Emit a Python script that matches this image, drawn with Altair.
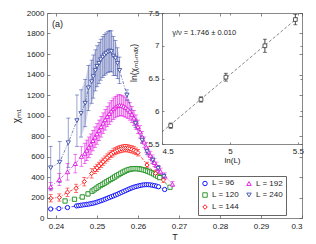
import altair as alt
import pandas as pd

FONT = "Liberation Sans"

# ---------------- main panel data ----------------
T96 = [0.2387, 0.2407, 0.2428, 0.2450, 0.2455, 0.2460, 0.2465, 0.2470, 0.2475, 0.2480,
       0.2485, 0.2490, 0.2495, 0.2500, 0.2505, 0.2510, 0.2515, 0.2520, 0.2525, 0.2530,
       0.2535, 0.2540, 0.2545, 0.2550, 0.2555, 0.2560, 0.2565, 0.2570, 0.2575, 0.2580,
       0.2585, 0.2590, 0.2595, 0.2600, 0.2605, 0.2610, 0.2615, 0.2620, 0.2625, 0.2630,
       0.2635, 0.2640, 0.2645, 0.2650, 0.2665]
C96 = [88, 92, 102, 118, 121, 124, 127, 130, 133, 136,
       140, 144, 149, 155, 162, 169, 176, 184, 192, 200,
       208, 216, 224, 232, 241, 250, 259, 268, 277, 286,
       294, 301, 307, 312, 317, 321, 324, 325, 325, 323,
       320, 316, 311, 305, 278]
E96 = [7, 7, 7, 6, 6, 6, 6, 6, 6, 6,
       6, 6, 6, 6, 6, 6, 6, 6, 6, 6,
       6, 6, 6, 6, 6, 6, 6, 6, 6, 6,
       6, 6, 6, 6, 6, 6, 6, 6, 6, 6,
       6, 6, 6, 6, 7]

T120 = [0.2422, 0.2445, 0.2464, 0.2478, 0.2488, 0.2493, 0.2498, 0.2503, 0.2508, 0.2513,
        0.2518, 0.2523, 0.2528, 0.2533, 0.2538, 0.2543, 0.2548, 0.2553, 0.2558, 0.2563,
        0.2568, 0.2573, 0.2578, 0.2583, 0.2588, 0.2593, 0.2598, 0.2603, 0.2608, 0.2613,
        0.2618, 0.2623, 0.2628, 0.2633, 0.2638, 0.2643, 0.2648, 0.2653, 0.2678]
C120 = [166, 183, 205, 235, 262, 275, 290, 303, 316, 328,
        340, 352, 364, 376, 388, 400, 412, 424, 436, 447,
        457, 466, 473, 478, 481, 482, 481, 479, 475, 470,
        464, 457, 449, 440, 430, 419, 407, 394, 300]
E120 = [18, 18, 20, 20, 20, 20, 20, 20, 20, 20,
        20, 20, 20, 20, 20, 20, 20, 20, 20, 20,
        20, 20, 20, 20, 20, 20, 20, 20, 20, 20,
        20, 20, 18, 18, 18, 16, 16, 16, 14]

T144 = [0.2387, 0.2408, 0.2428, 0.2449, 0.2469, 0.2487, 0.2495, 0.2500, 0.2505, 0.2510,
        0.2515, 0.2520, 0.2525, 0.2530, 0.2535, 0.2540, 0.2545, 0.2550, 0.2555, 0.2560,
        0.2565, 0.2570, 0.2575, 0.2580, 0.2585, 0.2590, 0.2595, 0.2600, 0.2622, 0.2643,
        0.2662]
C144 = [192, 200, 252, 290, 355, 435, 470, 490, 510, 530,
        550, 570, 590, 608, 625, 640, 652, 662, 670, 676,
        680, 681, 679, 675, 669, 661, 650, 637, 517, 436,
        371]
E144 = [35, 35, 40, 40, 42, 45, 35, 35, 35, 35,
        35, 35, 35, 35, 35, 35, 35, 35, 35, 35,
        35, 35, 35, 35, 35, 35, 33, 32, 28, 25,
        22]

T192 = [0.2387, 0.2408, 0.2428, 0.2447, 0.2462, 0.2470, 0.2475, 0.2480, 0.2485, 0.2490,
        0.2495, 0.2500, 0.2505, 0.2510, 0.2515, 0.2520, 0.2525, 0.2530, 0.2535, 0.2540,
        0.2545, 0.2550, 0.2555, 0.2560, 0.2565, 0.2570, 0.2575, 0.2580, 0.2585, 0.2590,
        0.2595, 0.2600, 0.2605, 0.2610, 0.2615, 0.2620, 0.2625, 0.2630, 0.2635, 0.2640,
        0.2645, 0.2650, 0.2655, 0.2665, 0.2684]
C192 = [305, 375, 450, 530, 600, 630, 660, 690, 720, 755,
        788, 820, 855, 890, 925, 958, 990, 1018, 1043, 1065,
        1082, 1095, 1100, 1098, 1090, 1078, 1060, 1040, 1010, 975,
        935, 890, 840, 790, 740, 690, 650, 610, 575, 540,
        510, 480, 455, 410, 330]
E192 = [40, 60, 80, 90, 95, 100, 100, 100, 100, 100,
        100, 100, 100, 100, 100, 100, 100, 105, 105, 105,
        105, 105, 105, 100, 100, 95, 90, 85, 80, 75,
        70, 65, 60, 55, 50, 48, 45, 42, 40, 38,
        36, 34, 32, 30, 25]

T240 = [0.2387, 0.2409, 0.2430, 0.2451, 0.2461, 0.2471, 0.2479, 0.2487, 0.2491, 0.2496,
        0.2500, 0.2505, 0.2509, 0.2514, 0.2518, 0.2522, 0.2527, 0.2531, 0.2535, 0.2540,
        0.2545, 0.2550, 0.2555, 0.2573, 0.2594, 0.2610, 0.2622, 0.2636, 0.2649, 0.2663]
C240 = [490, 545, 735, 950, 1020, 1120, 1270, 1330, 1380, 1440,
        1480, 1510, 1545, 1570, 1590, 1605, 1620, 1630, 1625, 1580,
        1560, 1510, 1440, 1200, 925, 760, 648, 565, 485, 405]
E240 = [210, 200, 240, 250, 230, 230, 220, 210, 210, 200,
        200, 200, 200, 200, 200, 200, 200, 200, 200, 190,
        170, 150, 130, 50, 40, 35, 30, 30, 25, 25]

SERIES = [("96", T96, C96, E96), ("120", T120, C120, E120), ("144", T144, C144, E144),
          ("192", T192, C192, E192), ("240", T240, C240, E240)]
LEG_ORDER = ["96", "120", "144", "192", "240"]
DRAW_ORDER = ["240", "192", "144", "120", "96"]
COLORS = {"96": "#0000FF", "120": "#1E8E1E", "144": "#FF0000", "192": "#E010E0", "240": "#3B4DA6"}
SHAPES = {"96": "circle", "120": "square", "144": "diamond", "192": "triangle-up", "240": "triangle-down"}

XT = [0.24, 0.25, 0.26, 0.27, 0.28, 0.29, 0.30]
YT = [0, 200, 400, 600, 800, 1000, 1200, 1400, 1600, 1800, 2000]

# ---------------- inset data ----------------
LNL = [4.564, 4.787, 4.970, 5.257, 5.481]
LNCHI = [5.78, 6.18, 6.52, 7.00, 7.40]
LNERR = [0.04, 0.04, 0.06, 0.10, 0.08]
SLOPE, SLOPE_ERR = 1.746, 0.010
INTERCEPT = -2.172
FIT_X = [4.5, 5.5]
IXT = [4.5, 5.0, 5.5]
IYT = [5.5, 6.0, 6.5, 7.0, 7.5]

W, H = 255, 205

rows = []
for L, Ts, Cs, Es in SERIES:
    for t, c, e in zip(Ts, Cs, Es):
        rows.append({"L": L, "T": t, "chi": c, "lo": c - e, "hi": c + e})
df = pd.DataFrame(rows)

xs = alt.Scale(domain=[0.2378, 0.3], nice=False, zero=False)
ys = alt.Scale(domain=[0, 2000], nice=False, zero=False)
cscale = alt.Scale(domain=LEG_ORDER, range=[COLORS[k] for k in LEG_ORDER])
sscale = alt.Scale(domain=LEG_ORDER, range=[SHAPES[k] for k in LEG_ORDER])
# same colours, listed in another order (a different domain so these never join the legend)
fscale = alt.Scale(domain=DRAW_ORDER, range=[COLORS[k] for k in DRAW_ORDER])

AXC = dict(domainColor="#555555", domainWidth=0.7, tickColor="#555555", tickWidth=0.7, zindex=1, grid=False)

x_lab = alt.Axis(orient="bottom", values=XT, format=".2~f", ticks=False, labelPadding=4,
                 title="T", titlePadding=2, **AXC)
y_lab = alt.Axis(orient="left", values=YT, format="d", ticks=False, labelPadding=3,
                 title="χₘ₁", titleFontSize=10, titlePadding=5, **AXC)
x_in_b = alt.Axis(orient="top", offset=-H, values=XT, labels=False, domain=False, tickSize=3, title=None, **AXC)
y_in_l = alt.Axis(orient="right", offset=-W, values=YT, labels=False, domain=False, tickSize=3, title=None, **AXC)
x_in_t = alt.Axis(orient="bottom", offset=-H, values=XT, labels=False, tickSize=3, title=None, **AXC)
y_in_r = alt.Axis(orient="left", offset=-W, values=YT, labels=False, tickSize=3, title=None, **AXC)

fill_nl = alt.Fill("L:N", scale=fscale, legend=None)
stroke_nl = alt.Stroke("L:N", scale=fscale, legend=None)
legend = alt.Legend(orient="none", legendX=151, legendY=163, columns=2, title=None,
                    labelExpr="'L = ' + datum.label", fillColor="white", strokeColor="#666666",
                    padding=3, labelFontSize=8, labelFont=FONT, symbolSize=20, symbolStrokeWidth=0.9,
                    rowPadding=2, columnPadding=5, labelOffset=3)

base = alt.Chart(df)

band = base.transform_filter(
    "(datum.L == '240' && datum.T > 0.2455 && datum.T < 0.256) || (datum.L == '192' && datum.T > 0.2465 && datum.T < 0.2605)"
).mark_area(opacity=0.22).encode(
    x=alt.X("T:Q", scale=xs, axis=None), y=alt.Y("lo:Q", scale=ys, axis=None), y2="hi:Q",
    fill=fill_nl, detail="L:N")

rules = base.mark_rule(strokeWidth=0.6, opacity=0.85).encode(
    x=alt.X("T:Q", scale=xs, axis=x_lab), y=alt.Y("lo:Q", scale=ys, axis=y_lab), y2="hi:Q", stroke=stroke_nl)

caps = base.transform_fold(["lo", "hi"], as_=["k", "v"]).mark_tick(
    orient="horizontal", size=4, thickness=0.6, opacity=0.9).encode(
    x=alt.X("T:Q", scale=xs, axis=None), y=alt.Y("v:Q", scale=ys, axis=None), fill=fill_nl)

lines = base.mark_line(strokeWidth=0.7, strokeDash=[3, 1.5, 1, 1.5]).encode(
    x=alt.X("T:Q", scale=xs, axis=x_in_b), y=alt.Y("chi:Q", scale=ys, axis=y_in_l),
    stroke=stroke_nl, order="T:Q")

points = base.mark_point(filled=False, fill="white", fillOpacity=1, size=18, strokeWidth=0.9, opacity=1).encode(
    x=alt.X("T:Q", scale=xs, axis=x_in_t), y=alt.Y("chi:Q", scale=ys, axis=y_in_r),
    color=alt.Color("L:N", scale=cscale, legend=legend),
    shape=alt.Shape("L:N", scale=sscale, legend=legend))

label_a = alt.Chart(pd.DataFrame({"T": [0.2390], "chi": [1893], "t": ["(a)"]})).mark_text(
    align="left", baseline="middle", fontSize=9, font=FONT, color="#222222").encode(
    x=alt.X("T:Q", scale=xs, axis=None), y=alt.Y("chi:Q", scale=ys, axis=None), text="t:N")

main = alt.layer(band, rules, caps, lines, points, label_a).resolve_axis(x="independent", y="independent")

# ---------------- inset ----------------
ixs = alt.Scale(domain=[4.5, 5.53], range=[115, 255], nice=False, zero=False)
iys = alt.Scale(domain=[5.5, 7.5], range=[131, 0], nice=False, zero=False)

ix_lab = alt.Axis(orient="bottom", offset=-74, values=IXT, format=".1~f", ticks=False, labelPadding=3,
                  title="ln(L)", titleFontSize=8, titlePadding=1, **AXC)
iy_lab = alt.Axis(orient="left", offset=-115, values=IYT, format=".1~f", ticks=False, labelPadding=3,
                  title=None, **AXC)
ix_in_b = alt.Axis(orient="top", offset=-131, values=IXT, labels=False, domain=False, tickSize=2, title=None, **AXC)
iy_in_l = alt.Axis(orient="right", offset=-140, values=IYT, labels=False, domain=False, tickSize=2, title=None, **AXC)
ix_in_t = alt.Axis(orient="bottom", offset=-H, values=IXT, labels=False, domain=False, tickSize=2, title=None, **AXC)
iy_in_r = alt.Axis(orient="left", offset=-W, values=IYT, labels=False, domain=False, tickSize=2, title=None, **AXC)

bg = alt.Chart(pd.DataFrame({"x0": [4.5], "x1": [5.53], "y0": [5.5], "y1": [7.5]})).mark_rect(
    fill="white").encode(
    x=alt.X("x0:Q", scale=ixs, axis=ix_lab), x2="x1:Q",
    y=alt.Y("y0:Q", scale=iys, axis=iy_lab), y2="y1:Q")

fit_df = pd.DataFrame({"x": FIT_X, "y": [SLOPE * v + INTERCEPT for v in FIT_X]})
fit = alt.Chart(fit_df).mark_line(color="#555555", strokeWidth=0.7, strokeDash=[3, 2]).encode(
    x=alt.X("x:Q", scale=ixs, axis=ix_in_b), y=alt.Y("y:Q", scale=iys, axis=iy_in_l))

idf = pd.DataFrame({"x": LNL, "y": LNCHI, "lo": [a - b for a, b in zip(LNCHI, LNERR)],
                    "hi": [a + b for a, b in zip(LNCHI, LNERR)]})
ibase = alt.Chart(idf)
irules = ibase.mark_rule(color="#111111", strokeWidth=0.8).encode(
    x=alt.X("x:Q", scale=ixs, axis=ix_in_t), y=alt.Y("lo:Q", scale=iys, axis=iy_in_r), y2="hi:Q")
icaps = ibase.transform_fold(["lo", "hi"], as_=["k", "v"]).mark_tick(
    orient="horizontal", size=4, thickness=0.8, color="#111111").encode(
    x=alt.X("x:Q", scale=ixs, axis=None), y=alt.Y("v:Q", scale=iys, axis=None))
ipts = ibase.mark_point(shape="square", filled=False, fill="white", fillOpacity=1, size=14,
                        strokeWidth=0.8, color="#333333").encode(
    x=alt.X("x:Q", scale=ixs, axis=None), y=alt.Y("y:Q", scale=iys, axis=None))
itext = alt.Chart(pd.DataFrame({"x": [4.575], "y": [7.2],
                                "t": [f"γ/ν = {SLOPE:.3f} ± {SLOPE_ERR:.3f}"]})).mark_text(
    align="left", baseline="middle", fontSize=7.5, font=FONT, color="#222222").encode(
    x=alt.X("x:Q", scale=ixs, axis=None), y=alt.Y("y:Q", scale=iys, axis=None), text="t:N")
# inset y-axis title, placed left of the inset's tick labels
ititle = alt.Chart(pd.DataFrame({"t": ["ln(χₘ₁,ₘₐₓ)"]})).mark_text(
    align="center", baseline="middle", angle=270, fontSize=8.5, font=FONT, color="#222222").encode(
    x=alt.value(87), y=alt.value(50), text="t:N")

inset = alt.layer(bg, fit, irules, icaps, ipts, itext).resolve_axis(x="independent", y="independent")

chart = alt.layer(main, inset, ititle).resolve_scale(
    x="independent", y="independent").resolve_axis(x="independent", y="independent").properties(
    width=W, height=H, autosize=alt.AutoSizeParams(type="none"),
    padding={"left": 39, "top": 5, "right": 6, "bottom": 28}
).configure_view(stroke=None).configure_axis(
    labelFont=FONT, titleFont=FONT, labelFontSize=8, titleFontSize=9,
    labelColor="#222222", titleColor="#222222", titleFontWeight="normal"
).configure_legend(labelFont=FONT, labelColor="#222222")

chart.save("out.html", embed_options={"renderer": "svg", "actions": False})
